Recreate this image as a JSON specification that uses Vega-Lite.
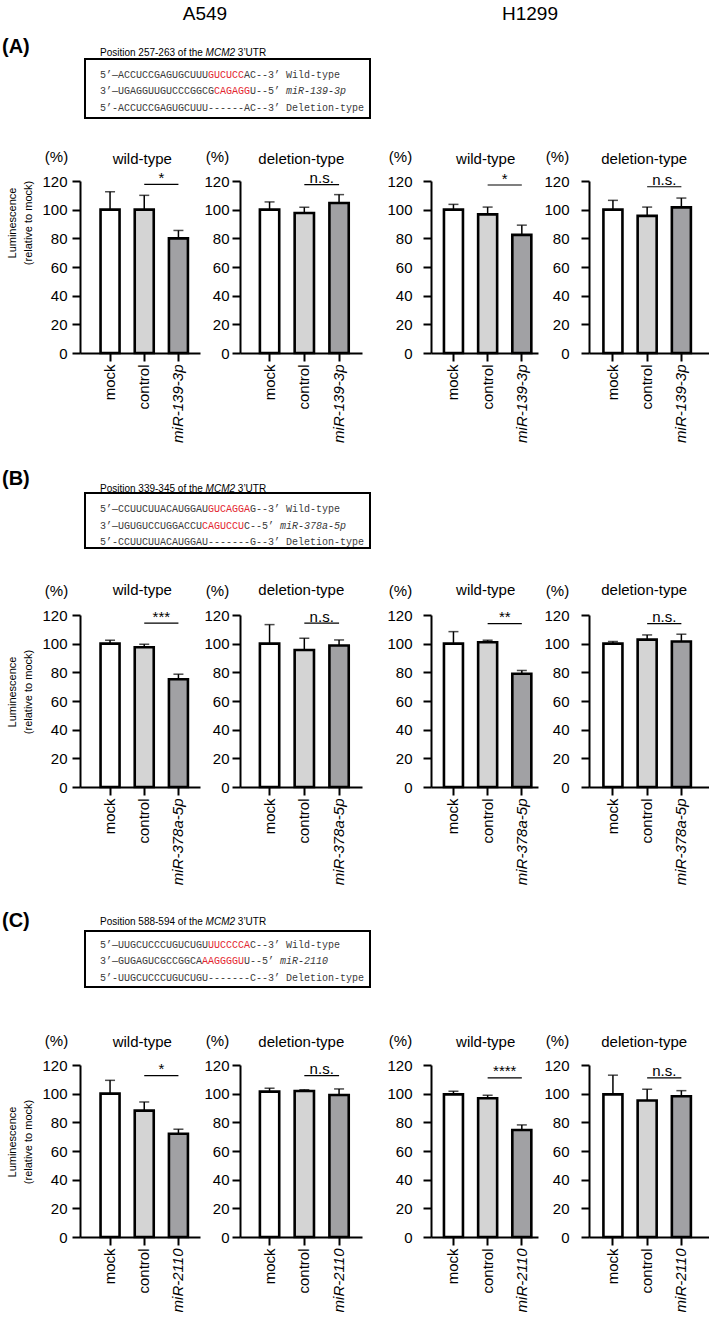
{
"$schema":"https://vega.github.io/schema/vega-lite/v6.json",
"autosize":{"type":"pad"},
"padding":{"left":2,"top":5,"right":0,"bottom":0},
"background":"white",
"config":{
 "font":"Liberation Sans",
 "view":{"stroke":null},
 "axis":{"domainColor":"black","domainWidth":2,"tickColor":"black","tickWidth":2,"tickSize":8,"labelColor":"black","labelFontSize":15,"labelFont":"Liberation Sans","titleFont":"Liberation Sans","titleFontSize":15,"titleFontWeight":"normal","titleColor":"black","grid":false,"labelOverlap":false},
 "text":{"font":"Liberation Sans","color":"black"}
},
"datasets":{
 "bars":[
  {"panel":"A1","cond":"mock","grp":"mock","mean":100,"upper":112.5},
  {"panel":"A1","cond":"control","grp":"control","mean":100,"upper":110},
  {"panel":"A1","cond":"miR-139-3p","grp":"mir","mean":80,"upper":85.5},
  {"panel":"A2","cond":"mock","grp":"mock","mean":100,"upper":105.4},
  {"panel":"A2","cond":"control","grp":"control","mean":97.7,"upper":101.6},
  {"panel":"A2","cond":"miR-139-3p","grp":"mir","mean":104.7,"upper":110.5},
  {"panel":"A3","cond":"mock","grp":"mock","mean":100,"upper":103.7},
  {"panel":"A3","cond":"control","grp":"control","mean":96.7,"upper":101.8},
  {"panel":"A3","cond":"miR-139-3p","grp":"mir","mean":82.4,"upper":89.2},
  {"panel":"A4","cond":"mock","grp":"mock","mean":100,"upper":106.5},
  {"panel":"A4","cond":"control","grp":"control","mean":95.7,"upper":101.8},
  {"panel":"A4","cond":"miR-139-3p","grp":"mir","mean":101.6,"upper":108.1},
  {"panel":"B1","cond":"mock","grp":"mock","mean":100,"upper":102.4},
  {"panel":"B1","cond":"control","grp":"control","mean":97.5,"upper":99.6},
  {"panel":"B1","cond":"miR-378a-5p","grp":"mir","mean":75.2,"upper":78.7},
  {"panel":"B2","cond":"mock","grp":"mock","mean":100,"upper":113.3},
  {"panel":"B2","cond":"control","grp":"control","mean":95.6,"upper":103.8},
  {"panel":"B2","cond":"miR-378a-5p","grp":"mir","mean":98.7,"upper":102.6},
  {"panel":"B3","cond":"mock","grp":"mock","mean":100,"upper":108.4},
  {"panel":"B3","cond":"control","grp":"control","mean":101,"upper":102.4},
  {"panel":"B3","cond":"miR-378a-5p","grp":"mir","mean":79,"upper":81.3},
  {"panel":"B4","cond":"mock","grp":"mock","mean":100,"upper":101.5},
  {"panel":"B4","cond":"control","grp":"control","mean":102.8,"upper":106.1},
  {"panel":"B4","cond":"miR-378a-5p","grp":"mir","mean":101.5,"upper":106.6},
  {"panel":"C1","cond":"mock","grp":"mock","mean":100,"upper":109.3},
  {"panel":"C1","cond":"control","grp":"control","mean":88.2,"upper":94.2},
  {"panel":"C1","cond":"miR-2110","grp":"mir","mean":72,"upper":75.2},
  {"panel":"C2","cond":"mock","grp":"mock","mean":101.4,"upper":103.8},
  {"panel":"C2","cond":"control","grp":"control","mean":101.9,"upper":102.8},
  {"panel":"C2","cond":"miR-2110","grp":"mir","mean":99.1,"upper":103.3},
  {"panel":"C3","cond":"mock","grp":"mock","mean":99.5,"upper":101.7},
  {"panel":"C3","cond":"control","grp":"control","mean":96.8,"upper":98.9},
  {"panel":"C3","cond":"miR-2110","grp":"mir","mean":74.7,"upper":78.2},
  {"panel":"C4","cond":"mock","grp":"mock","mean":99.5,"upper":112.9},
  {"panel":"C4","cond":"control","grp":"control","mean":95.2,"upper":103.1},
  {"panel":"C4","cond":"miR-2110","grp":"mir","mean":98.2,"upper":102.1}
 ],
 "sig":[
  {"panel":"A1","from":"control","to":"miR-139-3p","sigy":117.7,"label":"*","title":"wild-type","ty":135.2},
  {"panel":"A2","from":"control","to":"miR-139-3p","sigy":117.5,"label":"n.s.","title":"deletion-type","ty":135.2},
  {"panel":"A3","from":"control","to":"miR-139-3p","sigy":117.2,"label":"*","title":"wild-type","ty":135.2},
  {"panel":"A4","from":"control","to":"miR-139-3p","sigy":116,"label":"n.s.","title":"deletion-type","ty":135.2},
  {"panel":"B1","from":"control","to":"miR-378a-5p","sigy":114.4,"label":"***","title":"wild-type","ty":137.4},
  {"panel":"B2","from":"control","to":"miR-378a-5p","sigy":114.4,"label":"n.s.","title":"deletion-type","ty":137.4},
  {"panel":"B3","from":"control","to":"miR-378a-5p","sigy":114,"label":"**","title":"wild-type","ty":137.4},
  {"panel":"B4","from":"control","to":"miR-378a-5p","sigy":114,"label":"n.s.","title":"deletion-type","ty":137.4},
  {"panel":"C1","from":"control","to":"miR-2110","sigy":112.6,"label":"*","title":"wild-type","ty":136},
  {"panel":"C2","from":"control","to":"miR-2110","sigy":112.6,"label":"n.s.","title":"deletion-type","ty":136},
  {"panel":"C3","from":"control","to":"miR-2110","sigy":111,"label":"****","title":"wild-type","ty":136},
  {"panel":"C4","from":"control","to":"miR-2110","sigy":111,"label":"n.s.","title":"deletion-type","ty":136}
 ],
 "hdr":[
  {"label":"A549","col":17.5,"line":1},
  {"label":"H1299","col":71.67,"line":1}
 ],
 "seq":[
  {"box":"A","kind":"frame","col":-2.5,"col2":45,"line":0.0606,"line2":3.636},
  {"box":"A","kind":"seq","part":"flank","line":1,"col":0,"text":"5’—ACCUCCGAGUGCUUU"},
  {"box":"A","kind":"seq","part":"site","line":1,"col":18,"text":"GUCUCC"},
  {"box":"A","kind":"seq","part":"flank","line":1,"col":24,"text":"AC--3’"},
  {"box":"A","kind":"seq","part":"flank","line":1,"col":31,"text":"Wild-type"},
  {"box":"A","kind":"seq","part":"flank","line":2,"col":0,"text":"3’—UGAGGUUGUCCCGGCG"},
  {"box":"A","kind":"seq","part":"site","line":2,"col":19,"text":"CAGAGG"},
  {"box":"A","kind":"seq","part":"flank","line":2,"col":25,"text":"U--5’"},
  {"box":"A","kind":"mir","line":2,"col":31,"text":"miR-139-3p"},
  {"box":"A","kind":"seq","part":"flank","line":3,"col":0,"text":"5’-ACCUCCGAGUGCUUU------AC--3’"},
  {"box":"A","kind":"seq","part":"flank","line":3,"col":31,"text":"Deletion-type"},
  {"box":"A","kind":"pos","line":-0.303,"col":0,"text":"Position 257-263 of the"},
  {"box":"A","kind":"gene","line":-0.303,"col":17.6,"text":"MCM2"},
  {"box":"A","kind":"pos","line":-0.303,"col":22.97,"text":"3’UTR"},
  {"box":"A","kind":"lab","line":-0.667,"col":-16.333,"text":"(A)"},
  {"box":"A","kind":"ylab","line":10.0,"col":-14.45,"text":"Luminescence"},
  {"box":"A","kind":"ylab","line":10.0,"col":-11.85,"text":"(relative to mock)"},
  {"box":"B","kind":"frame","col":-2.5,"col2":45,"line":0.0303,"line2":3.3636},
  {"box":"B","kind":"seq","part":"flank","line":1,"col":0,"text":"5’—CCUUCUUACAUGGAU"},
  {"box":"B","kind":"seq","part":"site","line":1,"col":18,"text":"GUCAGGA"},
  {"box":"B","kind":"seq","part":"flank","line":1,"col":25,"text":"G--3’"},
  {"box":"B","kind":"seq","part":"flank","line":1,"col":31,"text":"Wild-type"},
  {"box":"B","kind":"seq","part":"flank","line":2,"col":0,"text":"3’—UGUGUCCUGGACCU"},
  {"box":"B","kind":"seq","part":"site","line":2,"col":17,"text":"CAGUCCU"},
  {"box":"B","kind":"seq","part":"flank","line":2,"col":24,"text":"C--5’"},
  {"box":"B","kind":"mir","line":2,"col":30,"text":"miR-378a-5p"},
  {"box":"B","kind":"seq","part":"flank","line":3,"col":0,"text":"5’-CCUUCUUACAUGGAU-------G--3’"},
  {"box":"B","kind":"seq","part":"flank","line":3,"col":31,"text":"Deletion-type"},
  {"box":"B","kind":"pos","line":-0.242,"col":0,"text":"Position 339-345 of the"},
  {"box":"B","kind":"gene","line":-0.242,"col":17.6,"text":"MCM2"},
  {"box":"B","kind":"pos","line":-0.242,"col":22.97,"text":"3’UTR"},
  {"box":"B","kind":"lab","line":-0.818,"col":-16.333,"text":"(B)"},
  {"box":"B","kind":"ylab","line":12.09,"col":-14.45,"text":"Luminescence"},
  {"box":"B","kind":"ylab","line":12.09,"col":-11.85,"text":"(relative to mock)"},
  {"box":"C","kind":"frame","col":-2.5,"col2":45,"line":0.1818,"line2":3.5758},
  {"box":"C","kind":"seq","part":"flank","line":1,"col":0,"text":"5’—UUGCUCCCUGUCUGU"},
  {"box":"C","kind":"seq","part":"site","line":1,"col":18,"text":"UUCCCCA"},
  {"box":"C","kind":"seq","part":"flank","line":1,"col":25,"text":"C--3’"},
  {"box":"C","kind":"seq","part":"flank","line":1,"col":31,"text":"Wild-type"},
  {"box":"C","kind":"seq","part":"flank","line":2,"col":0,"text":"3’—GUGAGUCGCCGGCA"},
  {"box":"C","kind":"seq","part":"site","line":2,"col":17,"text":"AAGGGGU"},
  {"box":"C","kind":"seq","part":"flank","line":2,"col":24,"text":"U--5’"},
  {"box":"C","kind":"mir","line":2,"col":30,"text":"miR-2110"},
  {"box":"C","kind":"seq","part":"flank","line":3,"col":0,"text":"5’-UUGCUCCCUGUCUGU-------C--3’"},
  {"box":"C","kind":"seq","part":"flank","line":3,"col":31,"text":"Deletion-type"},
  {"box":"C","kind":"pos","line":-0.364,"col":0,"text":"Position 588-594 of the"},
  {"box":"C","kind":"gene","line":-0.364,"col":17.6,"text":"MCM2"},
  {"box":"C","kind":"pos","line":-0.364,"col":22.97,"text":"3’UTR"},
  {"box":"C","kind":"lab","line":-0.424,"col":-16.333,"text":"(C)"},
  {"box":"C","kind":"ylab","line":12.97,"col":-14.45,"text":"Luminescence"},
  {"box":"C","kind":"ylab","line":12.97,"col":-11.85,"text":"(relative to mock)"}
 ]
},
"columns":1,"align":"none","spacing":26,
"concat":[
 {"columns":1,"align":"none","spacing":12,
  "concat":[
   {"width":629,"height":18,"data":{"name":"hdr"},
    "mark":{"type":"text","fontSize":19,"align":"center","baseline":"middle","color":"black"},
    "encoding":{"x":{"field":"col","type":"quantitative","scale":{"domain":[-3.3333,101.5],"nice":false,"zero":false},"axis":null},
     "y":{"field":"line","type":"quantitative","scale":{"domain":[0,2],"nice":false},"axis":null},
     "text":{"field":"label"}}},
   {"spacing":15,"hconcat":[
    {"spacing":40,"bounds":"flush","hconcat":[
     {"width":120,"height":172,"resolve":{"scale":{"x":"independent","y":"independent"}},
      "layer":[
       {"layer":[
        {"data":{"name":"bars"},"transform":[{"filter":"datum.panel=='A1'"}],"mark":{"type":"rule","color":"black","strokeWidth":1.5},
         "encoding":{"x":{"field":"cond","type":"nominal","scale":{"domain":["mock","control","miR-139-3p"],"paddingInner":0.444,"paddingOuter":0.477,"align":0.63},"axis":{"title":null,"labelAngle":-90,"labelPadding":3,"labelFontStyle":{"condition":{"test":"datum.value=='mock'||datum.value=='control'","value":"normal"},"value":"italic"}}},
          "y":{"field":"mean","type":"quantitative","scale":{"domain":[0,120],"nice":false},"axis":{"values":[0,20,40,60,80,100,120],"tickCount":7,"labelOverlap":false,"title":"(%)","titleAngle":0,"titleAlign":"center","titleBaseline":"middle","titleX":-24,"titleY":-25,"labelPadding":5}},
          "y2":{"field":"upper"}}},
        {"data":{"name":"bars"},"transform":[{"filter":"datum.panel=='A1'"}],"mark":{"type":"tick","color":"black","thickness":1.5,"size":10},
         "encoding":{"x":{"field":"cond","type":"nominal"},"y":{"field":"upper","type":"quantitative"}}},
        {"data":{"name":"bars"},"transform":[{"filter":"datum.panel=='A1'"}],"mark":{"type":"bar","stroke":"black","strokeWidth":2.6},
         "encoding":{"x":{"field":"cond","type":"nominal"},"y":{"field":"mean","type":"quantitative"},"fill":{"field":"grp","type":"nominal","scale":{"domain":["mock","control","mir"],"range":["#ffffff","#d4d4d4","#a1a1a4"]},"legend":null}}},
        {"data":{"name":"sig"},"transform":[{"filter":"datum.panel=='A1'"}],"mark":{"type":"rule","color":"black","strokeWidth":1.2},
         "encoding":{"x":{"field":"from","type":"nominal","bandPosition":0.5},"x2":{"field":"to","bandPosition":0.5},"y":{"field":"sigy","type":"quantitative"}}},
        {"data":{"name":"sig"},"transform":[{"filter":"datum.panel=='A1'"}],"mark":{"type":"text","fontSize":15,"baseline":"alphabetic","dx":17.1,"dy":-1.5},
         "encoding":{"x":{"field":"from","type":"nominal"},"y":{"field":"sigy","type":"quantitative"},"text":{"field":"label"}}},
        {"data":{"name":"sig"},"transform":[{"filter":"datum.panel=='A1'"}],"mark":{"type":"text","fontSize":15,"baseline":"middle","dx":-2},
         "encoding":{"x":{"field":"from","type":"nominal"},"y":{"field":"ty","type":"quantitative"},"text":{"field":"title"}}}
       ]},
       {"layer":[
        {"data":{"name":"seq"},"transform":[{"filter":"datum.box=='A' && datum.kind=='frame'"}],"mark":{"type":"rect","fill":"transparent","stroke":"black","strokeWidth":2},
         "encoding":{"x":{"field":"col","type":"quantitative","scale":{"domain":[-3.3333,16.6667],"nice":false,"zero":false},"axis":null},"x2":{"field":"col2"},
          "y":{"field":"line","type":"quantitative","scale":{"domain":[7.4545,17.8788],"nice":false,"zero":false,"reverse":true},"axis":null},
          "y2":{"field":"line2"}}},
        {"data":{"name":"seq"},"transform":[{"filter":"datum.box=='A' && datum.kind=='seq'"}],"mark":{"type":"text","font":"Liberation Mono","fontSize":10,"align":"left","baseline":"middle"},
         "encoding":{"x":{"field":"col","type":"quantitative","axis":null},"y":{"field":"line","type":"quantitative","axis":null},"text":{"field":"text"},"color":{"field":"part","type":"nominal","scale":{"domain":["flank","site"],"range":["#3a3a3a","#e3262f"]},"legend":null}}},
        {"data":{"name":"seq"},"transform":[{"filter":"datum.box=='A' && datum.kind=='mir'"}],"mark":{"type":"text","font":"Liberation Mono","fontStyle":"italic","fontSize":10,"align":"left","baseline":"middle","color":"#3a3a3a"},
         "encoding":{"x":{"field":"col","type":"quantitative","axis":null},"y":{"field":"line","type":"quantitative","axis":null},"text":{"field":"text"}}},
        {"data":{"name":"seq"},"transform":[{"filter":"datum.box=='A' && datum.kind=='pos'"}],"mark":{"type":"text","fontSize":10,"align":"left","baseline":"middle","color":"black"},
         "encoding":{"x":{"field":"col","type":"quantitative","axis":null},"y":{"field":"line","type":"quantitative","axis":null},"text":{"field":"text"}}},
        {"data":{"name":"seq"},"transform":[{"filter":"datum.box=='A' && datum.kind=='gene'"}],"mark":{"type":"text","fontSize":10,"fontStyle":"italic","align":"left","baseline":"middle","color":"black"},
         "encoding":{"x":{"field":"col","type":"quantitative","axis":null},"y":{"field":"line","type":"quantitative","axis":null},"text":{"field":"text"}}},
        {"data":{"name":"seq"},"transform":[{"filter":"datum.box=='A' && datum.kind=='lab'"}],"mark":{"type":"text","fontSize":20,"fontWeight":"bold","align":"left","baseline":"middle","color":"black"},
         "encoding":{"x":{"field":"col","type":"quantitative","axis":null},"y":{"field":"line","type":"quantitative","axis":null},"text":{"field":"text"}}},
        {"data":{"name":"seq"},"transform":[{"filter":"datum.box=='A' && datum.kind=='ylab'"}],"mark":{"type":"text","fontSize":11,"angle":270,"align":"center","baseline":"middle","color":"black"},
         "encoding":{"x":{"field":"col","type":"quantitative","axis":null},"y":{"field":"line","type":"quantitative","axis":null},"text":{"field":"text"}}}
       ]}
      ]},
     {"width":122,"height":172,
      "layer":[
       {"data":{"name":"bars"},"transform":[{"filter":"datum.panel=='A2'"}],"mark":{"type":"rule","color":"black","strokeWidth":1.5},
        "encoding":{"x":{"field":"cond","type":"nominal","scale":{"domain":["mock","control","miR-139-3p"],"paddingInner":0.444,"paddingOuter":0.477,"align":0.6},"axis":{"title":null,"labelAngle":-90,"labelPadding":3,"labelFontStyle":{"condition":{"test":"datum.value=='mock'||datum.value=='control'","value":"normal"},"value":"italic"}}},
         "y":{"field":"mean","type":"quantitative","scale":{"domain":[0,120],"nice":false},"axis":{"values":[0,20,40,60,80,100,120],"tickCount":7,"labelOverlap":false,"title":"(%)","titleAngle":0,"titleAlign":"center","titleBaseline":"middle","titleX":-23,"titleY":-25,"labelPadding":3}},
         "y2":{"field":"upper"}}},
       {"data":{"name":"bars"},"transform":[{"filter":"datum.panel=='A2'"}],"mark":{"type":"tick","color":"black","thickness":1.5,"size":10},
        "encoding":{"x":{"field":"cond","type":"nominal"},"y":{"field":"upper","type":"quantitative"}}},
       {"data":{"name":"bars"},"transform":[{"filter":"datum.panel=='A2'"}],"mark":{"type":"bar","stroke":"black","strokeWidth":2.6},
        "encoding":{"x":{"field":"cond","type":"nominal"},"y":{"field":"mean","type":"quantitative"},"fill":{"field":"grp","type":"nominal","scale":{"domain":["mock","control","mir"],"range":["#ffffff","#d4d4d4","#a1a1a4"]},"legend":null}}},
       {"data":{"name":"sig"},"transform":[{"filter":"datum.panel=='A2'"}],"mark":{"type":"rule","color":"black","strokeWidth":1.2},
        "encoding":{"x":{"field":"from","type":"nominal","bandPosition":0.5},"x2":{"field":"to","bandPosition":0.5},"y":{"field":"sigy","type":"quantitative"}}},
       {"data":{"name":"sig"},"transform":[{"filter":"datum.panel=='A2'"}],"mark":{"type":"text","fontSize":15,"baseline":"alphabetic","dx":17.4,"dy":-1.5},
        "encoding":{"x":{"field":"from","type":"nominal"},"y":{"field":"sigy","type":"quantitative"},"text":{"field":"label"}}},
       {"data":{"name":"sig"},"transform":[{"filter":"datum.panel=='A2'"}],"mark":{"type":"text","fontSize":15,"baseline":"middle","dx":-3},
        "encoding":{"x":{"field":"from","type":"nominal"},"y":{"field":"ty","type":"quantitative"},"text":{"field":"title"}}}
      ]}
    ]},
    {"spacing":51,"bounds":"flush","hconcat":[
     {"width":107,"height":172,
      "layer":[
       {"data":{"name":"bars"},"transform":[{"filter":"datum.panel=='A3'"}],"mark":{"type":"rule","color":"black","strokeWidth":1.5},
        "encoding":{"x":{"field":"cond","type":"nominal","scale":{"domain":["mock","control","miR-139-3p"],"paddingInner":0.444,"paddingOuter":0.287,"align":0.66},"axis":{"title":null,"labelAngle":-90,"labelPadding":3,"labelFontStyle":{"condition":{"test":"datum.value=='mock'||datum.value=='control'","value":"normal"},"value":"italic"}}},
         "y":{"field":"mean","type":"quantitative","scale":{"domain":[0,120],"nice":false},"axis":{"values":[0,20,40,60,80,100,120],"tickCount":7,"labelOverlap":false,"title":"(%)","titleAngle":0,"titleAlign":"center","titleBaseline":"middle","titleX":-31,"titleY":-25,"labelPadding":11}},
         "y2":{"field":"upper"}}},
       {"data":{"name":"bars"},"transform":[{"filter":"datum.panel=='A3'"}],"mark":{"type":"tick","color":"black","thickness":1.5,"size":10},
        "encoding":{"x":{"field":"cond","type":"nominal"},"y":{"field":"upper","type":"quantitative"}}},
       {"data":{"name":"bars"},"transform":[{"filter":"datum.panel=='A3'"}],"mark":{"type":"bar","stroke":"black","strokeWidth":2.6},
        "encoding":{"x":{"field":"cond","type":"nominal"},"y":{"field":"mean","type":"quantitative"},"fill":{"field":"grp","type":"nominal","scale":{"domain":["mock","control","mir"],"range":["#ffffff","#d4d4d4","#a1a1a4"]},"legend":null}}},
       {"data":{"name":"sig"},"transform":[{"filter":"datum.panel=='A3'"}],"mark":{"type":"rule","color":"black","strokeWidth":1.2},
        "encoding":{"x":{"field":"from","type":"nominal","bandPosition":0.5},"x2":{"field":"to","bandPosition":0.5},"y":{"field":"sigy","type":"quantitative"}}},
       {"data":{"name":"sig"},"transform":[{"filter":"datum.panel=='A3'"}],"mark":{"type":"text","fontSize":15,"baseline":"alphabetic","dx":17.1,"dy":-1.5},
        "encoding":{"x":{"field":"from","type":"nominal"},"y":{"field":"sigy","type":"quantitative"},"text":{"field":"label"}}},
       {"data":{"name":"sig"},"transform":[{"filter":"datum.panel=='A3'"}],"mark":{"type":"text","fontSize":15,"baseline":"middle","dx":-2},
        "encoding":{"x":{"field":"from","type":"nominal"},"y":{"field":"ty","type":"quantitative"},"text":{"field":"title"}}}
      ]},
     {"width":121,"height":172,
      "layer":[
       {"data":{"name":"bars"},"transform":[{"filter":"datum.panel=='A4'"}],"mark":{"type":"rule","color":"black","strokeWidth":1.5},
        "encoding":{"x":{"field":"cond","type":"nominal","scale":{"domain":["mock","control","miR-139-3p"],"paddingInner":0.444,"paddingOuter":0.49,"align":0.43},"axis":{"title":null,"labelAngle":-90,"labelPadding":3,"labelFontStyle":{"condition":{"test":"datum.value=='mock'||datum.value=='control'","value":"normal"},"value":"italic"}}},
         "y":{"field":"mean","type":"quantitative","scale":{"domain":[0,120],"nice":false},"axis":{"values":[0,20,40,60,80,100,120],"tickCount":7,"labelOverlap":false,"title":"(%)","titleAngle":0,"titleAlign":"center","titleBaseline":"middle","titleX":-32,"titleY":-25,"labelPadding":12}},
         "y2":{"field":"upper"}}},
       {"data":{"name":"bars"},"transform":[{"filter":"datum.panel=='A4'"}],"mark":{"type":"tick","color":"black","thickness":1.5,"size":10},
        "encoding":{"x":{"field":"cond","type":"nominal"},"y":{"field":"upper","type":"quantitative"}}},
       {"data":{"name":"bars"},"transform":[{"filter":"datum.panel=='A4'"}],"mark":{"type":"bar","stroke":"black","strokeWidth":2.6},
        "encoding":{"x":{"field":"cond","type":"nominal"},"y":{"field":"mean","type":"quantitative"},"fill":{"field":"grp","type":"nominal","scale":{"domain":["mock","control","mir"],"range":["#ffffff","#d4d4d4","#a1a1a4"]},"legend":null}}},
       {"data":{"name":"sig"},"transform":[{"filter":"datum.panel=='A4'"}],"mark":{"type":"rule","color":"black","strokeWidth":1.2},
        "encoding":{"x":{"field":"from","type":"nominal","bandPosition":0.5},"x2":{"field":"to","bandPosition":0.5},"y":{"field":"sigy","type":"quantitative"}}},
       {"data":{"name":"sig"},"transform":[{"filter":"datum.panel=='A4'"}],"mark":{"type":"text","fontSize":15,"baseline":"alphabetic","dx":17.1,"dy":-1.5},
        "encoding":{"x":{"field":"from","type":"nominal"},"y":{"field":"sigy","type":"quantitative"},"text":{"field":"label"}}},
       {"data":{"name":"sig"},"transform":[{"filter":"datum.panel=='A4'"}],"mark":{"type":"text","fontSize":15,"baseline":"middle","dx":-3},
        "encoding":{"x":{"field":"from","type":"nominal"},"y":{"field":"ty","type":"quantitative"},"text":{"field":"title"}}}
      ]}
    ]}
   ]}
  ]},
 {"spacing":15,"hconcat":[
  {"spacing":40,"bounds":"flush","hconcat":[
   {"width":120,"height":172,"resolve":{"scale":{"x":"independent","y":"independent"}},
    "layer":[
     {"layer":[
      {"data":{"name":"bars"},"transform":[{"filter":"datum.panel=='B1'"}],"mark":{"type":"rule","color":"black","strokeWidth":1.5},
       "encoding":{"x":{"field":"cond","type":"nominal","scale":{"domain":["mock","control","miR-378a-5p"],"paddingInner":0.444,"paddingOuter":0.477,"align":0.63},"axis":{"title":null,"labelAngle":-90,"labelPadding":3,"labelFontStyle":{"condition":{"test":"datum.value=='mock'||datum.value=='control'","value":"normal"},"value":"italic"}}},
        "y":{"field":"mean","type":"quantitative","scale":{"domain":[0,120],"nice":false},"axis":{"values":[0,20,40,60,80,100,120],"tickCount":7,"labelOverlap":false,"title":"(%)","titleAngle":0,"titleAlign":"center","titleBaseline":"middle","titleX":-24,"titleY":-25,"labelPadding":5}},
        "y2":{"field":"upper"}}},
      {"data":{"name":"bars"},"transform":[{"filter":"datum.panel=='B1'"}],"mark":{"type":"tick","color":"black","thickness":1.5,"size":10},
       "encoding":{"x":{"field":"cond","type":"nominal"},"y":{"field":"upper","type":"quantitative"}}},
      {"data":{"name":"bars"},"transform":[{"filter":"datum.panel=='B1'"}],"mark":{"type":"bar","stroke":"black","strokeWidth":2.6},
       "encoding":{"x":{"field":"cond","type":"nominal"},"y":{"field":"mean","type":"quantitative"},"fill":{"field":"grp","type":"nominal","scale":{"domain":["mock","control","mir"],"range":["#ffffff","#d4d4d4","#a1a1a4"]},"legend":null}}},
      {"data":{"name":"sig"},"transform":[{"filter":"datum.panel=='B1'"}],"mark":{"type":"rule","color":"black","strokeWidth":1.2},
       "encoding":{"x":{"field":"from","type":"nominal","bandPosition":0.5},"x2":{"field":"to","bandPosition":0.5},"y":{"field":"sigy","type":"quantitative"}}},
      {"data":{"name":"sig"},"transform":[{"filter":"datum.panel=='B1'"}],"mark":{"type":"text","fontSize":15,"baseline":"alphabetic","dx":17.1,"dy":-1.5},
       "encoding":{"x":{"field":"from","type":"nominal"},"y":{"field":"sigy","type":"quantitative"},"text":{"field":"label"}}},
      {"data":{"name":"sig"},"transform":[{"filter":"datum.panel=='B1'"}],"mark":{"type":"text","fontSize":15,"baseline":"middle","dx":-2},
       "encoding":{"x":{"field":"from","type":"nominal"},"y":{"field":"ty","type":"quantitative"},"text":{"field":"title"}}}
     ]},
     {"layer":[
      {"data":{"name":"seq"},"transform":[{"filter":"datum.box=='B' && datum.kind=='frame'"}],"mark":{"type":"rect","fill":"transparent","stroke":"black","strokeWidth":2},
       "encoding":{"x":{"field":"col","type":"quantitative","scale":{"domain":[-3.3333,16.6667],"nice":false,"zero":false},"axis":null},"x2":{"field":"col2"},
        "y":{"field":"line","type":"quantitative","scale":{"domain":[7.4242,17.8485],"nice":false,"zero":false,"reverse":true},"axis":null},
        "y2":{"field":"line2"}}},
      {"data":{"name":"seq"},"transform":[{"filter":"datum.box=='B' && datum.kind=='seq'"}],"mark":{"type":"text","font":"Liberation Mono","fontSize":10,"align":"left","baseline":"middle"},
       "encoding":{"x":{"field":"col","type":"quantitative","axis":null},"y":{"field":"line","type":"quantitative","axis":null},"text":{"field":"text"},"color":{"field":"part","type":"nominal","scale":{"domain":["flank","site"],"range":["#3a3a3a","#e3262f"]},"legend":null}}},
      {"data":{"name":"seq"},"transform":[{"filter":"datum.box=='B' && datum.kind=='mir'"}],"mark":{"type":"text","font":"Liberation Mono","fontStyle":"italic","fontSize":10,"align":"left","baseline":"middle","color":"#3a3a3a"},
       "encoding":{"x":{"field":"col","type":"quantitative","axis":null},"y":{"field":"line","type":"quantitative","axis":null},"text":{"field":"text"}}},
      {"data":{"name":"seq"},"transform":[{"filter":"datum.box=='B' && datum.kind=='pos'"}],"mark":{"type":"text","fontSize":10,"align":"left","baseline":"middle","color":"black"},
       "encoding":{"x":{"field":"col","type":"quantitative","axis":null},"y":{"field":"line","type":"quantitative","axis":null},"text":{"field":"text"}}},
      {"data":{"name":"seq"},"transform":[{"filter":"datum.box=='B' && datum.kind=='gene'"}],"mark":{"type":"text","fontSize":10,"fontStyle":"italic","align":"left","baseline":"middle","color":"black"},
       "encoding":{"x":{"field":"col","type":"quantitative","axis":null},"y":{"field":"line","type":"quantitative","axis":null},"text":{"field":"text"}}},
      {"data":{"name":"seq"},"transform":[{"filter":"datum.box=='B' && datum.kind=='lab'"}],"mark":{"type":"text","fontSize":20,"fontWeight":"bold","align":"left","baseline":"middle","color":"black"},
       "encoding":{"x":{"field":"col","type":"quantitative","axis":null},"y":{"field":"line","type":"quantitative","axis":null},"text":{"field":"text"}}},
      {"data":{"name":"seq"},"transform":[{"filter":"datum.box=='B' && datum.kind=='ylab'"}],"mark":{"type":"text","fontSize":11,"angle":270,"align":"center","baseline":"middle","color":"black"},
       "encoding":{"x":{"field":"col","type":"quantitative","axis":null},"y":{"field":"line","type":"quantitative","axis":null},"text":{"field":"text"}}}
     ]}
    ]},
   {"width":122,"height":172,
    "layer":[
     {"data":{"name":"bars"},"transform":[{"filter":"datum.panel=='B2'"}],"mark":{"type":"rule","color":"black","strokeWidth":1.5},
      "encoding":{"x":{"field":"cond","type":"nominal","scale":{"domain":["mock","control","miR-378a-5p"],"paddingInner":0.444,"paddingOuter":0.477,"align":0.6},"axis":{"title":null,"labelAngle":-90,"labelPadding":3,"labelFontStyle":{"condition":{"test":"datum.value=='mock'||datum.value=='control'","value":"normal"},"value":"italic"}}},
       "y":{"field":"mean","type":"quantitative","scale":{"domain":[0,120],"nice":false},"axis":{"values":[0,20,40,60,80,100,120],"tickCount":7,"labelOverlap":false,"title":"(%)","titleAngle":0,"titleAlign":"center","titleBaseline":"middle","titleX":-23,"titleY":-25,"labelPadding":3}},
       "y2":{"field":"upper"}}},
     {"data":{"name":"bars"},"transform":[{"filter":"datum.panel=='B2'"}],"mark":{"type":"tick","color":"black","thickness":1.5,"size":10},
      "encoding":{"x":{"field":"cond","type":"nominal"},"y":{"field":"upper","type":"quantitative"}}},
     {"data":{"name":"bars"},"transform":[{"filter":"datum.panel=='B2'"}],"mark":{"type":"bar","stroke":"black","strokeWidth":2.6},
      "encoding":{"x":{"field":"cond","type":"nominal"},"y":{"field":"mean","type":"quantitative"},"fill":{"field":"grp","type":"nominal","scale":{"domain":["mock","control","mir"],"range":["#ffffff","#d4d4d4","#a1a1a4"]},"legend":null}}},
     {"data":{"name":"sig"},"transform":[{"filter":"datum.panel=='B2'"}],"mark":{"type":"rule","color":"black","strokeWidth":1.2},
      "encoding":{"x":{"field":"from","type":"nominal","bandPosition":0.5},"x2":{"field":"to","bandPosition":0.5},"y":{"field":"sigy","type":"quantitative"}}},
     {"data":{"name":"sig"},"transform":[{"filter":"datum.panel=='B2'"}],"mark":{"type":"text","fontSize":15,"baseline":"alphabetic","dx":17.4,"dy":-1.5},
      "encoding":{"x":{"field":"from","type":"nominal"},"y":{"field":"sigy","type":"quantitative"},"text":{"field":"label"}}},
     {"data":{"name":"sig"},"transform":[{"filter":"datum.panel=='B2'"}],"mark":{"type":"text","fontSize":15,"baseline":"middle","dx":-3},
      "encoding":{"x":{"field":"from","type":"nominal"},"y":{"field":"ty","type":"quantitative"},"text":{"field":"title"}}}
    ]}
  ]},
  {"spacing":51,"bounds":"flush","hconcat":[
   {"width":107,"height":172,
    "layer":[
     {"data":{"name":"bars"},"transform":[{"filter":"datum.panel=='B3'"}],"mark":{"type":"rule","color":"black","strokeWidth":1.5},
      "encoding":{"x":{"field":"cond","type":"nominal","scale":{"domain":["mock","control","miR-378a-5p"],"paddingInner":0.444,"paddingOuter":0.287,"align":0.66},"axis":{"title":null,"labelAngle":-90,"labelPadding":3,"labelFontStyle":{"condition":{"test":"datum.value=='mock'||datum.value=='control'","value":"normal"},"value":"italic"}}},
       "y":{"field":"mean","type":"quantitative","scale":{"domain":[0,120],"nice":false},"axis":{"values":[0,20,40,60,80,100,120],"tickCount":7,"labelOverlap":false,"title":"(%)","titleAngle":0,"titleAlign":"center","titleBaseline":"middle","titleX":-31,"titleY":-25,"labelPadding":11}},
       "y2":{"field":"upper"}}},
     {"data":{"name":"bars"},"transform":[{"filter":"datum.panel=='B3'"}],"mark":{"type":"tick","color":"black","thickness":1.5,"size":10},
      "encoding":{"x":{"field":"cond","type":"nominal"},"y":{"field":"upper","type":"quantitative"}}},
     {"data":{"name":"bars"},"transform":[{"filter":"datum.panel=='B3'"}],"mark":{"type":"bar","stroke":"black","strokeWidth":2.6},
      "encoding":{"x":{"field":"cond","type":"nominal"},"y":{"field":"mean","type":"quantitative"},"fill":{"field":"grp","type":"nominal","scale":{"domain":["mock","control","mir"],"range":["#ffffff","#d4d4d4","#a1a1a4"]},"legend":null}}},
     {"data":{"name":"sig"},"transform":[{"filter":"datum.panel=='B3'"}],"mark":{"type":"rule","color":"black","strokeWidth":1.2},
      "encoding":{"x":{"field":"from","type":"nominal","bandPosition":0.5},"x2":{"field":"to","bandPosition":0.5},"y":{"field":"sigy","type":"quantitative"}}},
     {"data":{"name":"sig"},"transform":[{"filter":"datum.panel=='B3'"}],"mark":{"type":"text","fontSize":15,"baseline":"alphabetic","dx":17.1,"dy":-1.5},
      "encoding":{"x":{"field":"from","type":"nominal"},"y":{"field":"sigy","type":"quantitative"},"text":{"field":"label"}}},
     {"data":{"name":"sig"},"transform":[{"filter":"datum.panel=='B3'"}],"mark":{"type":"text","fontSize":15,"baseline":"middle","dx":-2},
      "encoding":{"x":{"field":"from","type":"nominal"},"y":{"field":"ty","type":"quantitative"},"text":{"field":"title"}}}
    ]},
   {"width":121,"height":172,
    "layer":[
     {"data":{"name":"bars"},"transform":[{"filter":"datum.panel=='B4'"}],"mark":{"type":"rule","color":"black","strokeWidth":1.5},
      "encoding":{"x":{"field":"cond","type":"nominal","scale":{"domain":["mock","control","miR-378a-5p"],"paddingInner":0.444,"paddingOuter":0.49,"align":0.43},"axis":{"title":null,"labelAngle":-90,"labelPadding":3,"labelFontStyle":{"condition":{"test":"datum.value=='mock'||datum.value=='control'","value":"normal"},"value":"italic"}}},
       "y":{"field":"mean","type":"quantitative","scale":{"domain":[0,120],"nice":false},"axis":{"values":[0,20,40,60,80,100,120],"tickCount":7,"labelOverlap":false,"title":"(%)","titleAngle":0,"titleAlign":"center","titleBaseline":"middle","titleX":-32,"titleY":-25,"labelPadding":12}},
       "y2":{"field":"upper"}}},
     {"data":{"name":"bars"},"transform":[{"filter":"datum.panel=='B4'"}],"mark":{"type":"tick","color":"black","thickness":1.5,"size":10},
      "encoding":{"x":{"field":"cond","type":"nominal"},"y":{"field":"upper","type":"quantitative"}}},
     {"data":{"name":"bars"},"transform":[{"filter":"datum.panel=='B4'"}],"mark":{"type":"bar","stroke":"black","strokeWidth":2.6},
      "encoding":{"x":{"field":"cond","type":"nominal"},"y":{"field":"mean","type":"quantitative"},"fill":{"field":"grp","type":"nominal","scale":{"domain":["mock","control","mir"],"range":["#ffffff","#d4d4d4","#a1a1a4"]},"legend":null}}},
     {"data":{"name":"sig"},"transform":[{"filter":"datum.panel=='B4'"}],"mark":{"type":"rule","color":"black","strokeWidth":1.2},
      "encoding":{"x":{"field":"from","type":"nominal","bandPosition":0.5},"x2":{"field":"to","bandPosition":0.5},"y":{"field":"sigy","type":"quantitative"}}},
     {"data":{"name":"sig"},"transform":[{"filter":"datum.panel=='B4'"}],"mark":{"type":"text","fontSize":15,"baseline":"alphabetic","dx":17.1,"dy":-1.5},
      "encoding":{"x":{"field":"from","type":"nominal"},"y":{"field":"sigy","type":"quantitative"},"text":{"field":"label"}}},
     {"data":{"name":"sig"},"transform":[{"filter":"datum.panel=='B4'"}],"mark":{"type":"text","fontSize":15,"baseline":"middle","dx":-3},
      "encoding":{"x":{"field":"from","type":"nominal"},"y":{"field":"ty","type":"quantitative"},"text":{"field":"title"}}}
    ]}
  ]}
 ]},
 {"spacing":15,"hconcat":[
  {"spacing":40,"bounds":"flush","hconcat":[
   {"width":120,"height":172,"resolve":{"scale":{"x":"independent","y":"independent"}},
    "layer":[
     {"layer":[
      {"data":{"name":"bars"},"transform":[{"filter":"datum.panel=='C1'"}],"mark":{"type":"rule","color":"black","strokeWidth":1.5},
       "encoding":{"x":{"field":"cond","type":"nominal","scale":{"domain":["mock","control","miR-2110"],"paddingInner":0.444,"paddingOuter":0.477,"align":0.63},"axis":{"title":null,"labelAngle":-90,"labelPadding":3,"labelFontStyle":{"condition":{"test":"datum.value=='mock'||datum.value=='control'","value":"normal"},"value":"italic"}}},
        "y":{"field":"mean","type":"quantitative","scale":{"domain":[0,120],"nice":false},"axis":{"values":[0,20,40,60,80,100,120],"tickCount":7,"labelOverlap":false,"title":"(%)","titleAngle":0,"titleAlign":"center","titleBaseline":"middle","titleX":-24,"titleY":-25,"labelPadding":5}},
        "y2":{"field":"upper"}}},
      {"data":{"name":"bars"},"transform":[{"filter":"datum.panel=='C1'"}],"mark":{"type":"tick","color":"black","thickness":1.5,"size":10},
       "encoding":{"x":{"field":"cond","type":"nominal"},"y":{"field":"upper","type":"quantitative"}}},
      {"data":{"name":"bars"},"transform":[{"filter":"datum.panel=='C1'"}],"mark":{"type":"bar","stroke":"black","strokeWidth":2.6},
       "encoding":{"x":{"field":"cond","type":"nominal"},"y":{"field":"mean","type":"quantitative"},"fill":{"field":"grp","type":"nominal","scale":{"domain":["mock","control","mir"],"range":["#ffffff","#d4d4d4","#a1a1a4"]},"legend":null}}},
      {"data":{"name":"sig"},"transform":[{"filter":"datum.panel=='C1'"}],"mark":{"type":"rule","color":"black","strokeWidth":1.2},
       "encoding":{"x":{"field":"from","type":"nominal","bandPosition":0.5},"x2":{"field":"to","bandPosition":0.5},"y":{"field":"sigy","type":"quantitative"}}},
      {"data":{"name":"sig"},"transform":[{"filter":"datum.panel=='C1'"}],"mark":{"type":"text","fontSize":15,"baseline":"alphabetic","dx":17.1,"dy":-1.5},
       "encoding":{"x":{"field":"from","type":"nominal"},"y":{"field":"sigy","type":"quantitative"},"text":{"field":"label"}}},
      {"data":{"name":"sig"},"transform":[{"filter":"datum.panel=='C1'"}],"mark":{"type":"text","fontSize":15,"baseline":"middle","dx":-2},
       "encoding":{"x":{"field":"from","type":"nominal"},"y":{"field":"ty","type":"quantitative"},"text":{"field":"title"}}}
     ]},
     {"layer":[
      {"data":{"name":"seq"},"transform":[{"filter":"datum.box=='C' && datum.kind=='frame'"}],"mark":{"type":"rect","fill":"transparent","stroke":"black","strokeWidth":2},
       "encoding":{"x":{"field":"col","type":"quantitative","scale":{"domain":[-3.3333,16.6667],"nice":false,"zero":false},"axis":null},"x2":{"field":"col2"},
        "y":{"field":"line","type":"quantitative","scale":{"domain":[8.303,18.7273],"nice":false,"zero":false,"reverse":true},"axis":null},
        "y2":{"field":"line2"}}},
      {"data":{"name":"seq"},"transform":[{"filter":"datum.box=='C' && datum.kind=='seq'"}],"mark":{"type":"text","font":"Liberation Mono","fontSize":10,"align":"left","baseline":"middle"},
       "encoding":{"x":{"field":"col","type":"quantitative","axis":null},"y":{"field":"line","type":"quantitative","axis":null},"text":{"field":"text"},"color":{"field":"part","type":"nominal","scale":{"domain":["flank","site"],"range":["#3a3a3a","#e3262f"]},"legend":null}}},
      {"data":{"name":"seq"},"transform":[{"filter":"datum.box=='C' && datum.kind=='mir'"}],"mark":{"type":"text","font":"Liberation Mono","fontStyle":"italic","fontSize":10,"align":"left","baseline":"middle","color":"#3a3a3a"},
       "encoding":{"x":{"field":"col","type":"quantitative","axis":null},"y":{"field":"line","type":"quantitative","axis":null},"text":{"field":"text"}}},
      {"data":{"name":"seq"},"transform":[{"filter":"datum.box=='C' && datum.kind=='pos'"}],"mark":{"type":"text","fontSize":10,"align":"left","baseline":"middle","color":"black"},
       "encoding":{"x":{"field":"col","type":"quantitative","axis":null},"y":{"field":"line","type":"quantitative","axis":null},"text":{"field":"text"}}},
      {"data":{"name":"seq"},"transform":[{"filter":"datum.box=='C' && datum.kind=='gene'"}],"mark":{"type":"text","fontSize":10,"fontStyle":"italic","align":"left","baseline":"middle","color":"black"},
       "encoding":{"x":{"field":"col","type":"quantitative","axis":null},"y":{"field":"line","type":"quantitative","axis":null},"text":{"field":"text"}}},
      {"data":{"name":"seq"},"transform":[{"filter":"datum.box=='C' && datum.kind=='lab'"}],"mark":{"type":"text","fontSize":20,"fontWeight":"bold","align":"left","baseline":"middle","color":"black"},
       "encoding":{"x":{"field":"col","type":"quantitative","axis":null},"y":{"field":"line","type":"quantitative","axis":null},"text":{"field":"text"}}},
      {"data":{"name":"seq"},"transform":[{"filter":"datum.box=='C' && datum.kind=='ylab'"}],"mark":{"type":"text","fontSize":11,"angle":270,"align":"center","baseline":"middle","color":"black"},
       "encoding":{"x":{"field":"col","type":"quantitative","axis":null},"y":{"field":"line","type":"quantitative","axis":null},"text":{"field":"text"}}}
     ]}
    ]},
   {"width":122,"height":172,
    "layer":[
     {"data":{"name":"bars"},"transform":[{"filter":"datum.panel=='C2'"}],"mark":{"type":"rule","color":"black","strokeWidth":1.5},
      "encoding":{"x":{"field":"cond","type":"nominal","scale":{"domain":["mock","control","miR-2110"],"paddingInner":0.444,"paddingOuter":0.477,"align":0.6},"axis":{"title":null,"labelAngle":-90,"labelPadding":3,"labelFontStyle":{"condition":{"test":"datum.value=='mock'||datum.value=='control'","value":"normal"},"value":"italic"}}},
       "y":{"field":"mean","type":"quantitative","scale":{"domain":[0,120],"nice":false},"axis":{"values":[0,20,40,60,80,100,120],"tickCount":7,"labelOverlap":false,"title":"(%)","titleAngle":0,"titleAlign":"center","titleBaseline":"middle","titleX":-23,"titleY":-25,"labelPadding":3}},
       "y2":{"field":"upper"}}},
     {"data":{"name":"bars"},"transform":[{"filter":"datum.panel=='C2'"}],"mark":{"type":"tick","color":"black","thickness":1.5,"size":10},
      "encoding":{"x":{"field":"cond","type":"nominal"},"y":{"field":"upper","type":"quantitative"}}},
     {"data":{"name":"bars"},"transform":[{"filter":"datum.panel=='C2'"}],"mark":{"type":"bar","stroke":"black","strokeWidth":2.6},
      "encoding":{"x":{"field":"cond","type":"nominal"},"y":{"field":"mean","type":"quantitative"},"fill":{"field":"grp","type":"nominal","scale":{"domain":["mock","control","mir"],"range":["#ffffff","#d4d4d4","#a1a1a4"]},"legend":null}}},
     {"data":{"name":"sig"},"transform":[{"filter":"datum.panel=='C2'"}],"mark":{"type":"rule","color":"black","strokeWidth":1.2},
      "encoding":{"x":{"field":"from","type":"nominal","bandPosition":0.5},"x2":{"field":"to","bandPosition":0.5},"y":{"field":"sigy","type":"quantitative"}}},
     {"data":{"name":"sig"},"transform":[{"filter":"datum.panel=='C2'"}],"mark":{"type":"text","fontSize":15,"baseline":"alphabetic","dx":17.4,"dy":-1.5},
      "encoding":{"x":{"field":"from","type":"nominal"},"y":{"field":"sigy","type":"quantitative"},"text":{"field":"label"}}},
     {"data":{"name":"sig"},"transform":[{"filter":"datum.panel=='C2'"}],"mark":{"type":"text","fontSize":15,"baseline":"middle","dx":-3},
      "encoding":{"x":{"field":"from","type":"nominal"},"y":{"field":"ty","type":"quantitative"},"text":{"field":"title"}}}
    ]}
  ]},
  {"spacing":51,"bounds":"flush","hconcat":[
   {"width":107,"height":172,
    "layer":[
     {"data":{"name":"bars"},"transform":[{"filter":"datum.panel=='C3'"}],"mark":{"type":"rule","color":"black","strokeWidth":1.5},
      "encoding":{"x":{"field":"cond","type":"nominal","scale":{"domain":["mock","control","miR-2110"],"paddingInner":0.444,"paddingOuter":0.287,"align":0.66},"axis":{"title":null,"labelAngle":-90,"labelPadding":3,"labelFontStyle":{"condition":{"test":"datum.value=='mock'||datum.value=='control'","value":"normal"},"value":"italic"}}},
       "y":{"field":"mean","type":"quantitative","scale":{"domain":[0,120],"nice":false},"axis":{"values":[0,20,40,60,80,100,120],"tickCount":7,"labelOverlap":false,"title":"(%)","titleAngle":0,"titleAlign":"center","titleBaseline":"middle","titleX":-31,"titleY":-25,"labelPadding":11}},
       "y2":{"field":"upper"}}},
     {"data":{"name":"bars"},"transform":[{"filter":"datum.panel=='C3'"}],"mark":{"type":"tick","color":"black","thickness":1.5,"size":10},
      "encoding":{"x":{"field":"cond","type":"nominal"},"y":{"field":"upper","type":"quantitative"}}},
     {"data":{"name":"bars"},"transform":[{"filter":"datum.panel=='C3'"}],"mark":{"type":"bar","stroke":"black","strokeWidth":2.6},
      "encoding":{"x":{"field":"cond","type":"nominal"},"y":{"field":"mean","type":"quantitative"},"fill":{"field":"grp","type":"nominal","scale":{"domain":["mock","control","mir"],"range":["#ffffff","#d4d4d4","#a1a1a4"]},"legend":null}}},
     {"data":{"name":"sig"},"transform":[{"filter":"datum.panel=='C3'"}],"mark":{"type":"rule","color":"black","strokeWidth":1.2},
      "encoding":{"x":{"field":"from","type":"nominal","bandPosition":0.5},"x2":{"field":"to","bandPosition":0.5},"y":{"field":"sigy","type":"quantitative"}}},
     {"data":{"name":"sig"},"transform":[{"filter":"datum.panel=='C3'"}],"mark":{"type":"text","fontSize":15,"baseline":"alphabetic","dx":17.1,"dy":-1.5},
      "encoding":{"x":{"field":"from","type":"nominal"},"y":{"field":"sigy","type":"quantitative"},"text":{"field":"label"}}},
     {"data":{"name":"sig"},"transform":[{"filter":"datum.panel=='C3'"}],"mark":{"type":"text","fontSize":15,"baseline":"middle","dx":-2},
      "encoding":{"x":{"field":"from","type":"nominal"},"y":{"field":"ty","type":"quantitative"},"text":{"field":"title"}}}
    ]},
   {"width":121,"height":172,
    "layer":[
     {"data":{"name":"bars"},"transform":[{"filter":"datum.panel=='C4'"}],"mark":{"type":"rule","color":"black","strokeWidth":1.5},
      "encoding":{"x":{"field":"cond","type":"nominal","scale":{"domain":["mock","control","miR-2110"],"paddingInner":0.444,"paddingOuter":0.49,"align":0.43},"axis":{"title":null,"labelAngle":-90,"labelPadding":3,"labelFontStyle":{"condition":{"test":"datum.value=='mock'||datum.value=='control'","value":"normal"},"value":"italic"}}},
       "y":{"field":"mean","type":"quantitative","scale":{"domain":[0,120],"nice":false},"axis":{"values":[0,20,40,60,80,100,120],"tickCount":7,"labelOverlap":false,"title":"(%)","titleAngle":0,"titleAlign":"center","titleBaseline":"middle","titleX":-32,"titleY":-25,"labelPadding":12}},
       "y2":{"field":"upper"}}},
     {"data":{"name":"bars"},"transform":[{"filter":"datum.panel=='C4'"}],"mark":{"type":"tick","color":"black","thickness":1.5,"size":10},
      "encoding":{"x":{"field":"cond","type":"nominal"},"y":{"field":"upper","type":"quantitative"}}},
     {"data":{"name":"bars"},"transform":[{"filter":"datum.panel=='C4'"}],"mark":{"type":"bar","stroke":"black","strokeWidth":2.6},
      "encoding":{"x":{"field":"cond","type":"nominal"},"y":{"field":"mean","type":"quantitative"},"fill":{"field":"grp","type":"nominal","scale":{"domain":["mock","control","mir"],"range":["#ffffff","#d4d4d4","#a1a1a4"]},"legend":null}}},
     {"data":{"name":"sig"},"transform":[{"filter":"datum.panel=='C4'"}],"mark":{"type":"rule","color":"black","strokeWidth":1.2},
      "encoding":{"x":{"field":"from","type":"nominal","bandPosition":0.5},"x2":{"field":"to","bandPosition":0.5},"y":{"field":"sigy","type":"quantitative"}}},
     {"data":{"name":"sig"},"transform":[{"filter":"datum.panel=='C4'"}],"mark":{"type":"text","fontSize":15,"baseline":"alphabetic","dx":17.1,"dy":-1.5},
      "encoding":{"x":{"field":"from","type":"nominal"},"y":{"field":"sigy","type":"quantitative"},"text":{"field":"label"}}},
     {"data":{"name":"sig"},"transform":[{"filter":"datum.panel=='C4'"}],"mark":{"type":"text","fontSize":15,"baseline":"middle","dx":-3},
      "encoding":{"x":{"field":"from","type":"nominal"},"y":{"field":"ty","type":"quantitative"},"text":{"field":"title"}}}
    ]}
  ]}
 ]}
]
}
